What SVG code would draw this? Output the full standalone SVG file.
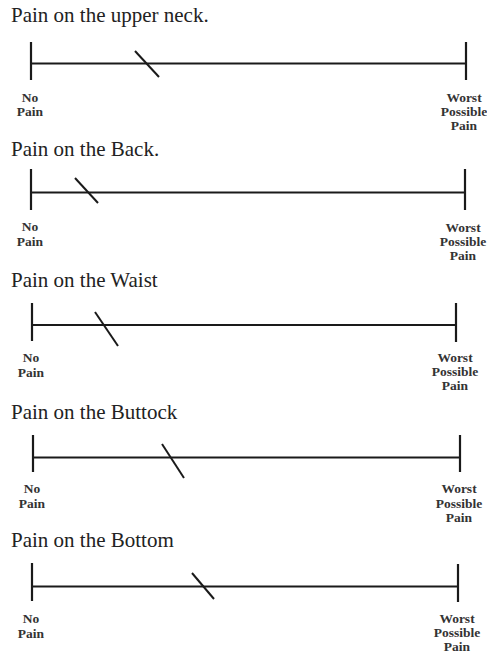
<svg xmlns="http://www.w3.org/2000/svg" width="487" height="654" viewBox="0 0 487 654">
<style>
.title{font-family:"Liberation Serif","Times New Roman",serif;font-size:21px;fill:#222}
.lab{font-family:"Liberation Serif","Times New Roman",serif;font-size:13.5px;font-weight:bold;fill:#333;text-anchor:middle}
.ln{stroke:#1a1a1a;stroke-width:2.2;fill:none}
.mk{stroke:#1a1a1a;stroke-width:2;fill:none}
</style>
<rect width="487" height="654" fill="#fff"/>
<g id="scale-neck">
<text class="title" x="11" y="22">Pain on the upper neck.</text>
<line class="ln" x1="31" y1="42" x2="31" y2="80"/>
<line class="ln" x1="466" y1="42" x2="466" y2="80"/>
<line class="ln" x1="31" y1="63.5" x2="466" y2="63.5"/>
<line class="mk" x1="135" y1="51" x2="159" y2="77"/>
<text class="lab" x="30" y="102">No</text>
<text class="lab" x="30" y="116">Pain</text>
<text class="lab" x="464" y="102">Worst</text>
<text class="lab" x="464" y="116">Possible</text>
<text class="lab" x="464" y="130">Pain</text>
</g>
<g id="scale-back">
<text class="title" x="11" y="156">Pain on the Back.</text>
<line class="ln" x1="31" y1="169" x2="31" y2="210"/>
<line class="ln" x1="465" y1="169" x2="465" y2="210"/>
<line class="ln" x1="31" y1="192.5" x2="465" y2="192.5"/>
<line class="mk" x1="75" y1="178" x2="98" y2="203"/>
<text class="lab" x="30" y="231">No</text>
<text class="lab" x="30" y="246">Pain</text>
<text class="lab" x="463" y="232">Worst</text>
<text class="lab" x="463" y="246">Possible</text>
<text class="lab" x="463" y="260">Pain</text>
</g>
<g id="scale-waist">
<text class="title" x="11" y="287">Pain on the Waist</text>
<line class="ln" x1="32" y1="303" x2="32" y2="341"/>
<line class="ln" x1="456" y1="303" x2="456" y2="342"/>
<line class="ln" x1="32" y1="325" x2="456" y2="325"/>
<line class="mk" x1="95" y1="312" x2="118" y2="346"/>
<text class="lab" x="31" y="362">No</text>
<text class="lab" x="31" y="377">Pain</text>
<text class="lab" x="455" y="362">Worst</text>
<text class="lab" x="455" y="376">Possible</text>
<text class="lab" x="455" y="390">Pain</text>
</g>
<g id="scale-buttock">
<text class="title" x="11" y="419">Pain on the Buttock</text>
<line class="ln" x1="33" y1="435" x2="33" y2="472"/>
<line class="ln" x1="460" y1="435" x2="460" y2="472"/>
<line class="ln" x1="33" y1="457.5" x2="460" y2="457.5"/>
<line class="mk" x1="162" y1="444" x2="184" y2="478"/>
<text class="lab" x="32" y="493">No</text>
<text class="lab" x="32" y="508">Pain</text>
<text class="lab" x="459" y="493">Worst</text>
<text class="lab" x="459" y="508">Possible</text>
<text class="lab" x="459" y="522">Pain</text>
</g>
<g id="scale-bottom">
<text class="title" x="11" y="547">Pain on the Bottom</text>
<line class="ln" x1="32" y1="563" x2="32" y2="601"/>
<line class="ln" x1="458" y1="564" x2="458" y2="602"/>
<line class="ln" x1="32" y1="586.5" x2="458" y2="586.5"/>
<line class="mk" x1="192" y1="573" x2="214" y2="599"/>
<text class="lab" x="31" y="623">No</text>
<text class="lab" x="31" y="638">Pain</text>
<text class="lab" x="457" y="623">Worst</text>
<text class="lab" x="457" y="637">Possible</text>
<text class="lab" x="457" y="651">Pain</text>
</g>
</svg>
